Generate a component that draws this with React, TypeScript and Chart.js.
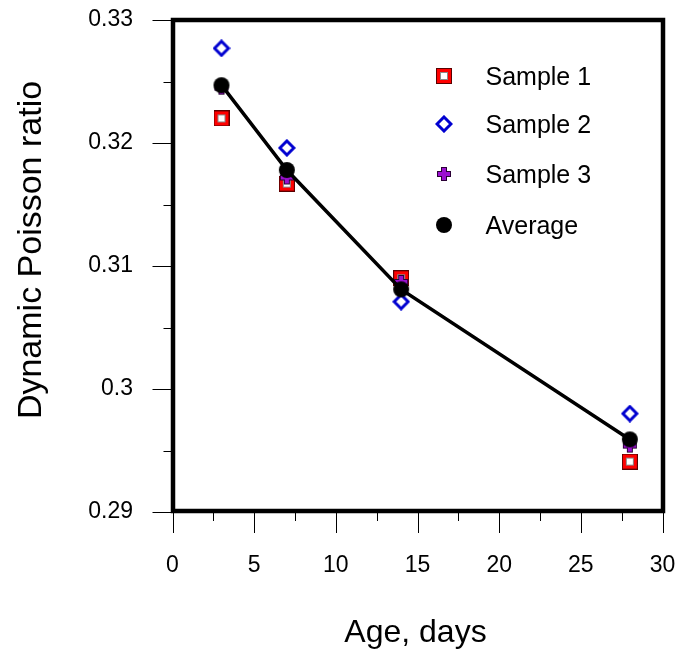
import React, { useEffect, useRef } from 'react';
import { Chart, registerables } from 'chart.js';

Chart.register(...registerables);

// ---- data ----
const ages = [3, 7, 14, 28];
const sample1 = [0.322, 0.3167, 0.309, 0.2941];
const sample2 = [0.3277, 0.3196, 0.3071, 0.298];
const sample3 = [0.3245, 0.3172, 0.3087, 0.2954];
const average = [0.3247, 0.3178, 0.3081, 0.2959];
const seriesNames = ['Sample 1', 'Sample 2', 'Sample 3', 'Average'];
const xTickLabels = ['0', '5', '10', '15', '20', '25', '30'];
const yTickLabels = ['0.29', '0.3', '0.31', '0.32', '0.33'];
const xTitle = 'Age, days';
const yTitle = 'Dynamic Poisson ratio';

const FONT = "'Liberation Sans', Arial, Helvetica, sans-serif";

function makeMarker(kind: string): HTMLCanvasElement {
  const c = document.createElement('canvas');
  const g = c.getContext('2d') as CanvasRenderingContext2D;
  if (kind === 'square') {
    c.width = 16; c.height = 16;
    g.fillStyle = '#5a0000'; g.fillRect(0, 0, 16, 16);
    g.fillStyle = '#ff0000'; g.fillRect(1, 1, 14, 14);
    g.fillStyle = '#8a8a8a'; g.fillRect(4, 4, 8, 8);
    g.fillStyle = '#ffffff'; g.fillRect(5, 5, 6, 6);
  } else if (kind === 'diamond') {
    c.width = 18; c.height = 18;
    g.beginPath();
    g.moveTo(9, 2); g.lineTo(16, 9); g.lineTo(9, 16); g.lineTo(2, 9); g.closePath();
    g.fillStyle = '#ffffff'; g.fill();
    g.lineWidth = 3; g.strokeStyle = '#0000d0'; g.stroke();
  } else if (kind === 'plus') {
    c.width = 16; c.height = 16;
    g.fillStyle = '#2a0035';
    g.fillRect(1, 5, 14, 6); g.fillRect(5, 1, 6, 14);
    g.fillStyle = '#9b10d0';
    g.fillRect(2, 6, 12, 4); g.fillRect(6, 2, 4, 12);
  } else {
    c.width = 18; c.height = 18;
    g.beginPath(); g.arc(9, 9, 8, 0, Math.PI * 2);
    g.fillStyle = '#000000'; g.fill();
  }
  return c;
}

export default function App() {
  const ref = useRef<HTMLCanvasElement | null>(null);

  useEffect(() => {
    document.body.style.margin = '0';
    const markers = [makeMarker('square'), makeMarker('diamond'), makeMarker('plus'), makeMarker('circle')];
    const pts = (ys: number[]) => ages.map((x, i) => ({ x, y: ys[i] }));
    const noPad = (s: any) => { s.paddingTop = 0; s.paddingBottom = 0; s.paddingLeft = 0; s.paddingRight = 0; };

    const decorPlugin = {
      id: 'decor',
      afterDraw(chart: any) {
        const { ctx, chartArea: a, scales } = chart;
        ctx.save();
        // ticks
        ctx.strokeStyle = '#000';
        ctx.lineWidth = 1;
        const xs = scales.x.ticks.map((t: any) => t.value);
        xs.forEach((v: number, i: number) => {
          const px = Math.round(scales.x.getPixelForValue(v)) + 0.5;
          ctx.beginPath(); ctx.moveTo(px, a.bottom + 1); ctx.lineTo(px, a.bottom + 21); ctx.stroke();
          if (i < xs.length - 1) {
            const mp = Math.round(scales.x.getPixelForValue((v + xs[i + 1]) / 2)) + 0.5;
            ctx.beginPath(); ctx.moveTo(mp, a.bottom + 1); ctx.lineTo(mp, a.bottom + 9); ctx.stroke();
          }
        });
        const ys = scales.y.ticks.map((t: any) => t.value);
        ys.forEach((v: number, i: number) => {
          const py = Math.round(scales.y.getPixelForValue(v)) + 0.5;
          ctx.beginPath(); ctx.moveTo(a.left - 20, py); ctx.lineTo(a.left, py); ctx.stroke();
          if (i < ys.length - 1) {
            const mp = Math.round(scales.y.getPixelForValue((v + ys[i + 1]) / 2)) + 0.5;
            ctx.beginPath(); ctx.moveTo(a.left - 9, mp); ctx.lineTo(a.left, mp); ctx.stroke();
          }
        });
        // frame
        ctx.lineWidth = 4.5;
        ctx.strokeRect(a.left + 0.5, a.top, a.right - a.left, a.bottom - a.top - 1);
        // legend
        const lx = a.left + 271;
        const rows = [76, 124, 174, 225];
        ctx.fillStyle = '#000';
        ctx.font = `25px ${FONT}`;
        ctx.textAlign = 'left';
        ctx.textBaseline = 'middle';
        seriesNames.forEach((name, i) => {
          const m = markers[i];
          ctx.drawImage(m, Math.round(lx - m.width / 2), Math.round(rows[i] - m.height / 2));
          ctx.fillText(name, lx + 42, rows[i] + 2);
        });
        // axis titles
        ctx.font = `32px ${FONT}`;
        ctx.textAlign = 'center';
        ctx.textBaseline = 'alphabetic';
        ctx.fillText(xTitle, 415.5, 642);
        ctx.font = `34px ${FONT}`;
        ctx.translate(41, 250);
        ctx.rotate(-Math.PI / 2);
        ctx.fillText(yTitle, 0, 0);
        ctx.restore();
      },
    };

    const chart = new Chart(ref.current as HTMLCanvasElement, {
      type: 'line',
      data: {
        datasets: [
          {
            label: seriesNames[3], data: pts(average), showLine: true, borderColor: '#000', borderWidth: 3.5,
            pointStyle: markers[3] as any, order: 0, tension: 0,
          },
          { label: seriesNames[2], data: pts(sample3), showLine: false, pointStyle: markers[2] as any, order: 1 },
          { label: seriesNames[1], data: pts(sample2), showLine: false, pointStyle: markers[1] as any, order: 2 },
          { label: seriesNames[0], data: pts(sample1), showLine: false, pointStyle: markers[0] as any, order: 3 },
        ],
      },
      options: {
        responsive: false,
        animation: false,
        devicePixelRatio: 1,
        layout: { padding: { top: 20, right: 18.5, left: 0, bottom: 0 } },
        plugins: { legend: { display: false }, tooltip: { enabled: false } },
        scales: {
          x: {
            type: 'linear', min: 0, max: 30,
            grid: { display: false, drawTicks: false },
            border: { display: false },
            ticks: {
              stepSize: 5, padding: 40, color: '#000', font: { family: FONT, size: 23 },
              maxRotation: 0,
              callback: (_v: any, i: number) => xTickLabels[i],
            },
            afterFit: (s: any) => { s.height = 141; noPad(s); },
          },
          y: {
            type: 'linear', min: 0.29, max: 0.33,
            grid: { display: false, drawTicks: false },
            border: { display: false },
            ticks: {
              stepSize: 0.01, padding: 39.5, color: '#000', font: { family: FONT, size: 23 },
              callback: (_v: any, i: number) => yTickLabels[i],
            },
            afterFit: (s: any) => { s.width = 172.5; noPad(s); },
          },
        },
      },
      plugins: [decorPlugin],
    } as any);
    return () => chart.destroy();
  }, []);

  return (
    <div style={{ position: 'absolute', left: 0, top: 0, width: 681, height: 653, background: '#fff' }}>
      <canvas ref={ref} width={681} height={653} />
    </div>
  );
}
